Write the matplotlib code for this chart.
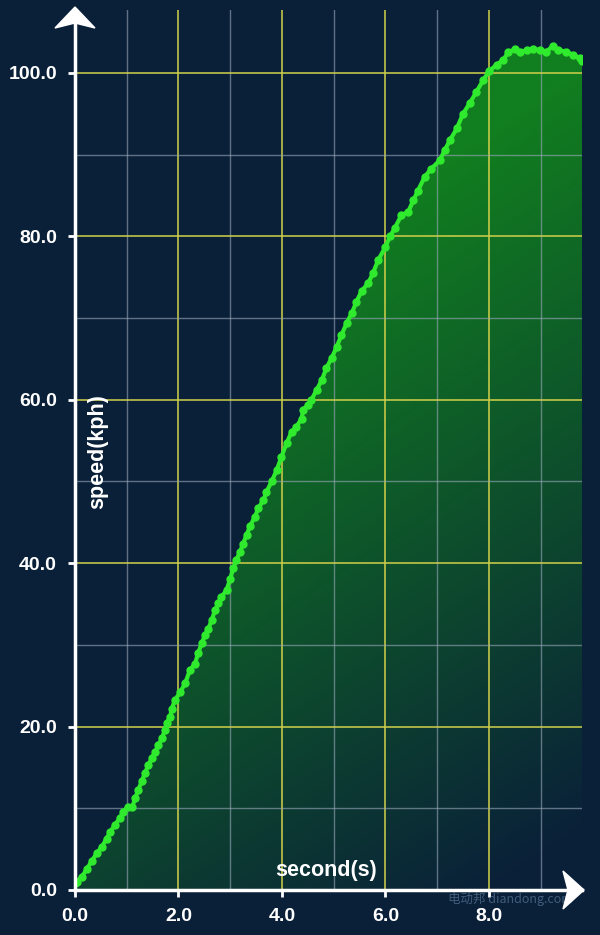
import numpy as np
import matplotlib.pyplot as plt
from matplotlib.patches import Polygon
from matplotlib.ticker import MultipleLocator

plt.rcParams['font.family'] = ['Liberation Sans', 'DejaVu Sans']

# speed trace (second, kph)
time_s = [0.00, 0.03, 0.13, 0.23, 0.32, 0.42, 0.52, 0.61, 0.68, 0.77, 0.87, 0.93,
          1.03, 1.11, 1.16, 1.22, 1.29, 1.35, 1.42, 1.48, 1.55, 1.61, 1.68, 1.74,
          1.77, 1.84, 1.87, 1.93, 2.03, 2.13, 2.22, 2.32, 2.38, 2.45, 2.51, 2.58,
          2.64, 2.71, 2.77, 2.83, 2.93, 3.00, 3.06, 3.12, 3.19, 3.25, 3.32, 3.38,
          3.48, 3.54, 3.64, 3.70, 3.80, 3.90, 3.99, 4.09, 4.19, 4.28, 4.38, 4.41,
          4.51, 4.57, 4.67, 4.77, 4.86, 4.96, 5.06, 5.15, 5.25, 5.35, 5.44, 5.54,
          5.67, 5.76, 5.86, 6.00, 6.09, 6.18, 6.31, 6.44, 6.54, 6.63, 6.76, 6.89,
          7.05, 7.15, 7.25, 7.38, 7.50, 7.63, 7.76, 7.89, 8.00, 8.15, 8.28, 8.37,
          8.50, 8.60, 8.73, 8.86, 8.99, 9.11, 9.24, 9.34, 9.50, 9.63, 9.76, 9.80]
speed_kph = [0.8, 1.0, 1.6, 2.6, 3.5, 4.5, 5.3, 6.3, 7.1, 8.0, 8.8, 9.6,
             10.2, 10.2, 11.2, 12.2, 13.3, 14.3, 15.3, 16.1, 16.9, 17.7, 18.6, 19.6,
             20.4, 21.2, 22.2, 23.2, 24.2, 25.3, 26.9, 27.7, 29.0, 30.2, 31.2, 32.0,
             33.0, 34.3, 35.1, 35.9, 36.7, 38.1, 39.4, 40.4, 41.4, 42.4, 43.5, 44.5,
             45.7, 46.7, 47.7, 48.7, 50.0, 51.4, 53.0, 54.7, 56.1, 56.7, 57.7, 58.8,
             59.4, 60.0, 61.2, 62.4, 63.9, 65.1, 66.5, 67.9, 69.4, 70.6, 72.0, 73.3,
             74.3, 75.5, 77.1, 78.7, 80.0, 81.0, 82.6, 83.0, 84.4, 85.6, 87.3, 88.3,
             89.3, 90.6, 91.8, 93.2, 95.0, 96.3, 97.7, 99.1, 100.2, 101.0, 101.6, 102.5,
             102.9, 102.5, 102.8, 102.9, 102.8, 102.6, 103.3, 102.8, 102.6, 102.2, 101.8, 101.4]

x_major = [0, 2, 4, 6, 8]
y_major = [0, 20, 40, 60, 80, 100]
x_label = 'second(s)'
y_label = 'speed(kph)'
watermark = '电动邦 diandong.com'

bg = '#0a2039'
W, H = 600, 935
L, R, B, T = 75, 582, 890, 10   # plot box in pixels
xmax, ymax = 9.8, 107.7

fig = plt.figure(figsize=(6, 9.35), dpi=100)
fig.patch.set_facecolor(bg)
ax = fig.add_axes([L / W, 1 - B / H, (R - L) / W, (B - T) / H])
ax.set_facecolor(bg)
ax.set_xlim(0, xmax)
ax.set_ylim(0, ymax)

# gradient fill under the curve
verts = [(time_s[0], 0)] + list(zip(time_s, speed_kph)) + [(time_s[-1], 0)]
clip = Polygon(verts, closed=True, facecolor='none', edgecolor='none')
ax.add_patch(clip)
gx, gy = np.meshgrid(np.linspace(0, 1, 300), np.linspace(0, 1, 300))
s = 0.8 * gy + 0.3 * (1 - gx)
alpha = np.clip((s - 0.05) / 0.7, 0, 1) * 0.9
rgba = np.zeros((300, 300, 4))
rgba[..., 0] = 0x12 / 255
rgba[..., 1] = 0x8a / 255
rgba[..., 2] = 0x1c / 255
rgba[..., 3] = alpha
im = ax.imshow(rgba, extent=[0, xmax, 0, ymax], origin='lower', aspect='auto', zorder=1)
im.set_clip_path(clip)

# grid
ax.xaxis.set_major_locator(MultipleLocator(2))
ax.xaxis.set_minor_locator(MultipleLocator(1))
ax.yaxis.set_major_locator(MultipleLocator(20))
ax.yaxis.set_minor_locator(MultipleLocator(10))
ax.set_axisbelow('line')
ax.grid(which='major', color='#cfcf4a', lw=1.4, alpha=0.8)
ax.grid(which='minor', color='#9aa8ba', lw=1.0, alpha=0.6)

ax.plot(time_s, speed_kph, color='#30ea2e', lw=3, marker='o', ms=5, zorder=5)

ax.set_xticks(x_major)
ax.set_yticks(y_major)
ax.xaxis.set_major_formatter(lambda v, p: '%.1f' % v)
ax.yaxis.set_major_formatter(lambda v, p: '%.1f' % v)
ax.tick_params(which='major', colors='white', length=5, width=2, pad=8,
               labelsize=14)
ax.tick_params(which='minor', length=0)
for lab in ax.get_xticklabels() + ax.get_yticklabels():
    lab.set_fontweight('bold')

for side in ['top', 'right']:
    ax.spines[side].set_visible(False)
for side in ['left', 'bottom']:
    ax.spines[side].set_color('white')
    ax.spines[side].set_linewidth(2.5)
    ax.spines[side].set_zorder(6)

ax.text(0.44, 53.6, y_label, rotation=90, ha='center', va='center',
        color='white', fontsize=15.5, fontweight='bold', zorder=7)
ax.text(4.86, 2.4, x_label, ha='center', va='center',
        color='white', fontsize=15.5, fontweight='bold', zorder=7)

# arrow heads
def fp(px, py):
    return (px / W, 1 - py / H)

up = [fp(75, 7), fp(95, 28), fp(75, 23), fp(55, 28)]
right = [fp(584, 890), fp(563, 871), fp(568, 890), fp(563, 909)]
for pts in [up, right]:
    fig.patches.append(Polygon(pts, closed=True, facecolor='white', edgecolor='white',
                               lw=1, transform=fig.transFigure, zorder=10))

fig.text(510 / W, 1 - 899 / H, watermark, ha='center', va='center', color='#6f8fb0',
         alpha=0.55, fontsize=9, style='italic',
         family=['Noto Sans CJK SC', 'DejaVu Sans'])

fig.savefig('out.png', dpi=100, facecolor=bg)
